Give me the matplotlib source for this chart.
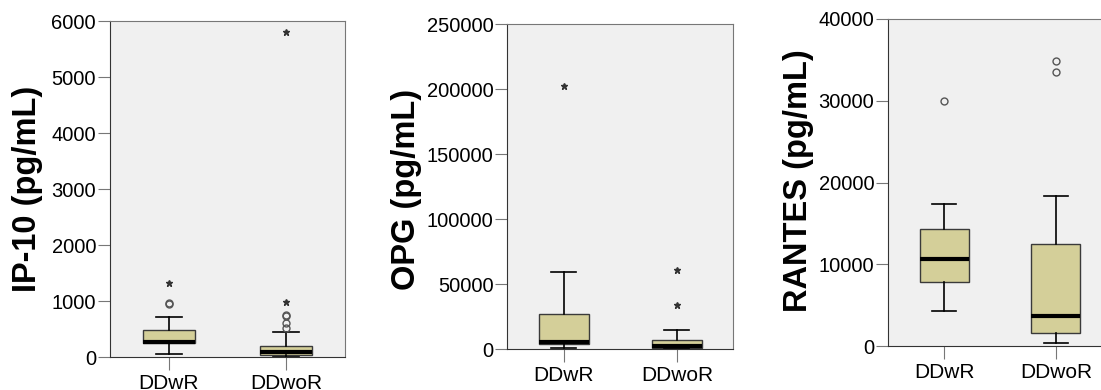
import numpy as np
import matplotlib
matplotlib.use("Agg")
from matplotlib import pyplot as plt

# Groups
groups = ["DDwR", "DDwoR"]

# IP-10 (pg/mL): whislo, q1, med, q3, whishi
ip10_stats = [
    [55, 245, 275, 482, 720],
    [5, 36, 95, 200, 440],
]
ip10_circles = [[946, 960], [512, 600, 730, 750]]
ip10_stars = [[1327], [988, 5800]]

# OPG (pg/mL)
opg_stats = [
    [1000, 3850, 5600, 27000, 59300],
    [500, 1000, 2500, 6900, 14600],
]
opg_circles = [[], []]
opg_stars = [[202500], [33900, 60800]]

# RANTES (pg/mL)
rantes_stats = [
    [4280, 7870, 10640, 14300, 17330],
    [370, 1630, 3670, 12440, 18390],
]
rantes_circles = [[29970], [33470, 34850]]
rantes_stars = [[], []]

panels = [
    ("IP-10 (pg/mL)", ip10_stats, ip10_circles, ip10_stars, 6000, 1000,
     [0.0999, 0.0846, 0.2134, 0.8615], -0.349, 0.5),
    ("OPG (pg/mL)", opg_stats, opg_circles, opg_stars, 250000, 50000,
     [0.4608, 0.1051, 0.2053, 0.8326], -0.448, 0.49),
    ("RANTES (pg/mL)", rantes_stats, rantes_circles, rantes_stars, 40000, 10000,
     [0.8068, 0.1128, 0.2029, 0.8385], -0.404, 0.505),
]

plt.rcParams['font.family'] = ['Liberation Sans', 'DejaVu Sans']

fig = plt.figure(figsize=(11.01, 3.9), dpi=100)

for label, stats, circles, stars, ymax, ystep, pos, lx, ly in panels:
    ax = fig.add_axes(pos)
    ax.set_facecolor("#F0F0F0")
    bxp_stats = []
    for g, s in zip(groups, stats):
        bxp_stats.append({
            "label": g, "whislo": s[0], "q1": s[1], "med": s[2],
            "q3": s[3], "whishi": s[4], "fliers": [],
        })
    xs = np.arange(1, len(groups) + 1)
    ax.bxp(
        bxp_stats,
        positions=xs,
        widths=0.44,
        patch_artist=True,
        showfliers=False,
        boxprops=dict(facecolor="#D4CF99", edgecolor="#3A3A3A", linewidth=1.0),
        medianprops=dict(color="black", linewidth=3),
        whiskerprops=dict(color="black", linewidth=1.2),
        capprops=dict(color="black", linewidth=1.2),
        capwidths=0.22,
    )
    # outliers
    for x, c in zip(xs, circles):
        if c:
            ax.plot([x] * len(c), c, "o", mfc="none", mec="#555555",
                    ms=5, mew=1.0, clip_on=False)
    for x, s in zip(xs, stars):
        if s:
            ax.plot([x] * len(s), s, "*", color="#333333", ms=5, clip_on=False)

    ax.set_xlim(0.5, 2.5)
    ax.set_ylim(0, ymax)
    ax.set_yticks(np.arange(0, ymax + 1, ystep))
    ax.set_xticks(xs)
    ax.set_xticklabels(groups)
    for sp in ax.spines.values():
        sp.set_color("#777777")
        sp.set_linewidth(0.8)
    ax.spines["left"].set_color("#333333")
    ax.spines["bottom"].set_color("#333333")
    ax.tick_params(axis="y", length=9, width=0.8, color="#777777", pad=1,
                   labelsize=14.5, labelcolor="black")
    ax.tick_params(axis="x", length=9.5, width=0.8, color="#777777", pad=3,
                   labelsize=15, labelcolor="black")
    ax.set_ylabel(label, fontsize=23.5, fontweight="bold", va="center")
    ax.yaxis.set_label_coords(lx, ly)

plt.savefig("out.png", dpi=100)
